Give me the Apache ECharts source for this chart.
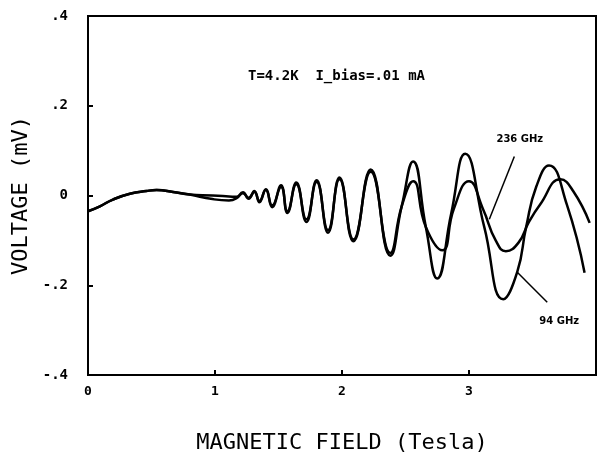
<!DOCTYPE html>
<html>
<head>
<meta charset="utf-8">
<script src="https://cdn.jsdelivr.net/npm/echarts@6/dist/echarts.min.js"></script>
<style>
  html, body { margin: 0; padding: 0; background: #fff; }
  #chart { width: 598px; height: 458px; }
</style>
</head>
<body>
<div id="chart"></div>
<script>
// magnetic field (Tesla) / voltage (mV)
const field236 = [0, 0.094, 0.196, 0.33, 0.46, 0.54, 0.67, 0.8, 0.98, 1.11, 1.17, 1.22, 1.265, 1.31, 1.35, 1.40, 1.45, 1.52, 1.57, 1.64, 1.72, 1.80, 1.89, 1.98, 2.09, 2.226, 2.38, 2.47, 2.56, 2.66, 2.79, 2.88, 3.0, 3.11, 3.21, 3.29, 3.39, 3.47, 3.56, 3.72, 3.82, 3.95];
const volt236  = [-0.035, -0.024, -0.009, 0.004, 0.01, 0.012, 0.008, 0.002, 0.0, -0.002, -0.003, 0.005, -0.005, 0.008, -0.012, 0.012, -0.022, 0.019, -0.035, 0.025, -0.053, 0.03, -0.077, 0.036, -0.098, 0.053, -0.128, -0.024, 0.032, -0.07, -0.122, -0.03, 0.032, -0.03, -0.1, -0.124, -0.105, -0.06, -0.02, 0.036, 0.01, -0.061];

const field94 = [0, 0.094, 0.196, 0.33, 0.46, 0.54, 0.67, 0.8, 0.98, 1.11, 1.17, 1.22, 1.265, 1.31, 1.35, 1.40, 1.45, 1.52, 1.57, 1.64, 1.72, 1.80, 1.89, 1.98, 2.09, 2.226, 2.38, 2.47, 2.56, 2.66, 2.75, 2.86, 2.97, 3.12, 3.27, 3.38, 3.45, 3.53, 3.63, 3.77, 3.91];
const volt94  = [-0.035, -0.024, -0.009, 0.004, 0.01, 0.012, 0.008, 0.002, -0.008, -0.011, -0.006, 0.007, -0.007, 0.01, -0.015, 0.014, -0.026, 0.023, -0.039, 0.029, -0.059, 0.034, -0.083, 0.04, -0.102, 0.058, -0.134, -0.024, 0.076, -0.07, -0.185, -0.04, 0.093, -0.07, -0.231, -0.17, -0.07, 0.02, 0.067, -0.02, -0.172];

const yTicks = [-0.4, -0.2, 0, 0.2, 0.4];
const xTicks = [0, 1, 2, 3];

const chart = echarts.init(document.getElementById('chart'));

const zip = (xs, ys) => xs.map((x, i) => [x, ys[i]]);

const tickFmt = (v) => {
  if (Math.abs(v) < 1e-9) return '0';
  const s = Math.abs(v).toFixed(1).replace(/^0/, '');
  return (v < 0 ? '-' : '') + s;
};

const mono = 'DejaVu Sans Mono';

function leader(from, to, text, at) {
  return {
    markLine: {
      silent: true,
      symbol: ['none', 'none'],
      animation: false,
      lineStyle: { color: '#000', width: 1.5, type: 'solid' },
      label: { show: false },
      data: [[{ coord: from }, { coord: to }]],
    },
    markPoint: {
      silent: true,
      symbol: 'rect',
      symbolSize: 1,
      itemStyle: { color: 'rgba(0,0,0,0)' },
      label: {
        show: true,
        position: 'inside',
        formatter: text,
        color: '#000',
        fontFamily: 'DejaVu Sans',
        fontWeight: 'bold',
        fontSize: 10,
      },
      data: [{ coord: at }],
    },
  };
}

chart.setOption({
  animation: false,
  backgroundColor: '#fff',
  grid: {
    left: 88,
    right: 2,
    top: 16,
    bottom: 83,
    outerBoundsMode: 'none',
    show: true,
    borderColor: '#000',
    borderWidth: 2,
  },
  graphic: [{
    type: 'text',
    left: 248,
    top: 69,
    style: {
      text: 'T=4.2K  I_bias=.01 mA',
      fill: '#000',
      font: 'bold 14px "DejaVu Sans Mono"',
    },
  }],
  xAxis: {
    type: 'value',
    min: 0,
    max: 4,
    interval: 1,
    name: 'MAGNETIC FIELD (Tesla)',
    nameLocation: 'middle',
    nameGap: 57,
    nameTextStyle: { color: '#000', fontFamily: mono, fontSize: 22 },
    axisLine: { onZero: false, lineStyle: { color: '#000', width: 2 } },
    axisTick: { inside: true, length: 5, lineStyle: { color: '#000', width: 2 } },
    axisLabel: {
      color: '#000',
      fontFamily: mono,
      fontWeight: 'bold',
      fontSize: 13,
      margin: 10,
      formatter: (v) => (xTicks.indexOf(v) >= 0 ? String(v) : ''),
    },
    splitLine: { show: false },
  },
  yAxis: {
    type: 'value',
    min: -0.4,
    max: 0.4,
    interval: 0.2,
    name: 'VOLTAGE (mV)',
    nameLocation: 'middle',
    nameGap: 53,
    nameTextStyle: { color: '#000', fontFamily: mono, fontSize: 22 },
    axisLine: { onZero: false, lineStyle: { color: '#000', width: 2 } },
    axisTick: { inside: true, length: 5, lineStyle: { color: '#000', width: 2 } },
    axisLabel: {
      color: '#000',
      fontFamily: mono,
      fontWeight: 'bold',
      fontSize: 14,
      margin: 20,
      formatter: (v) => (yTicks.some((t) => Math.abs(t - v) < 1e-9) ? tickFmt(v) : ''),
    },
    splitLine: { show: false },
  },
  series: [
    Object.assign({
      name: '236 GHz',
      type: 'line',
      data: zip(field236, volt236),
      showSymbol: false,
      smooth: 0.5,
      lineStyle: { color: '#000', width: 2.5 },
      itemStyle: { color: '#000' },
    }, leader([3.357, 0.087], [3.16, -0.053], '236 GHz', [3.40, 0.124])),
    Object.assign({
      name: '94 GHz',
      type: 'line',
      data: zip(field94, volt94),
      showSymbol: false,
      smooth: 0.5,
      lineStyle: { color: '#000', width: 2.5 },
      itemStyle: { color: '#000' },
    }, leader([3.616, -0.238], [3.38, -0.171], '94 GHz', [3.71, -0.28])),
  ],
});
</script>
</body>
</html>
